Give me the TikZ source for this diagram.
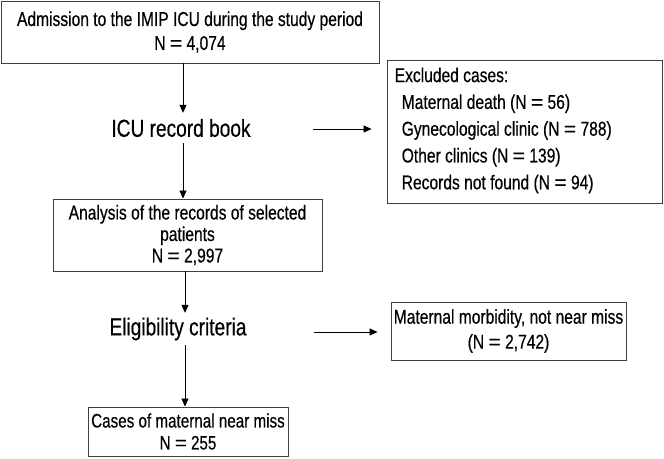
\documentclass[tikz,border=0pt]{standalone}
\usepackage{fontspec}
\setmainfont{Liberation Sans}[FakeStretch=0.78,FakeBold=0.4]
\usetikzlibrary{arrows.meta,calc}
\newcommand\myeq{\scalebox{1.35}[1]{=}}
\begin{document}
\begin{tikzpicture}[x=1pt,y=-1pt,
  box/.style={draw=black!75, line width=0.9pt, inner sep=0pt, align=center},
  big/.style={inner sep=0pt, font=\fontsize{24.5}{28}\selectfont, minimum height=30pt},
  arr/.style={draw=black, line width=0.8pt, -{Triangle[length=8pt,width=7pt]}}]
\useasboundingbox (0,0) rectangle (664,458);
\node[box, minimum width=378pt, minimum height=62pt, font=\fontsize{20}{24}\selectfont] (adm) at (190,32)
  {Admission to the IMIP ICU during the study period\\N \myeq\ 4,074};
\node[big] (icu) at (181,128) {ICU record book};
\node[box, minimum width=269pt, minimum height=72pt, font=\fontsize{20}{21.5}\selectfont] (ana) at (187.5,235)
  {Analysis of the records of selected\\patients\\N \myeq\ 2,997};
\node[big, minimum height=32pt] (eli) at (178,329) {Eligibility criteria};
\node[box, minimum width=200pt, minimum height=49pt, font=\fontsize{19.5}{22}\selectfont] (nm) at (188,431.5)
  {Cases of maternal near miss\\N \myeq\ 255};
\node[box, minimum width=275pt, minimum height=143pt] (exc) at (524.5,131.5) {};
\node[inner sep=0pt, anchor=west, align=left, font=\fontsize{20}{26.8}\selectfont] (exct) at ([xshift=8pt,yshift=1pt]exc.west)
  {Excluded cases:\\
   \hspace*{7pt}Maternal death (N \myeq\ 56)\\
   \hspace*{7pt}Gynecological clinic (N \myeq\ 788)\\
   \hspace*{7pt}Other clinics (N \myeq\ 139)\\
   \hspace*{7pt}Records not found (N \myeq\ 94)};
\node[box, minimum width=235pt, minimum height=58pt, font=\fontsize{20}{25}\selectfont] (mor) at (508.5,331)
  {Maternal morbidity, not near miss\\(N \myeq\ 2,742)};
\coordinate (c1) at (183,0);
\coordinate (c2) at (185,0);
\draw[arr] (c1 |- adm.south) -- (c1 |- icu.north);
\draw[arr] (c1 |- icu.south) -- (c1 |- ana.north);
\draw[arr] (c2 |- ana.south) -- (c2 |- eli.north);
\draw[arr] (c2 |- eli.south) -- (c2 |- nm.north);
\draw[arr, shorten <=62pt, shorten >=15pt] ([yshift=-1pt]icu.east) -- ([yshift=-1pt]icu.east -| exc.west);
\draw[arr, shorten <=67pt, shorten >=13pt] ([yshift=-3pt]eli.east) -- ([yshift=-3pt]eli.east -| mor.west);
\end{tikzpicture}
\end{document}
